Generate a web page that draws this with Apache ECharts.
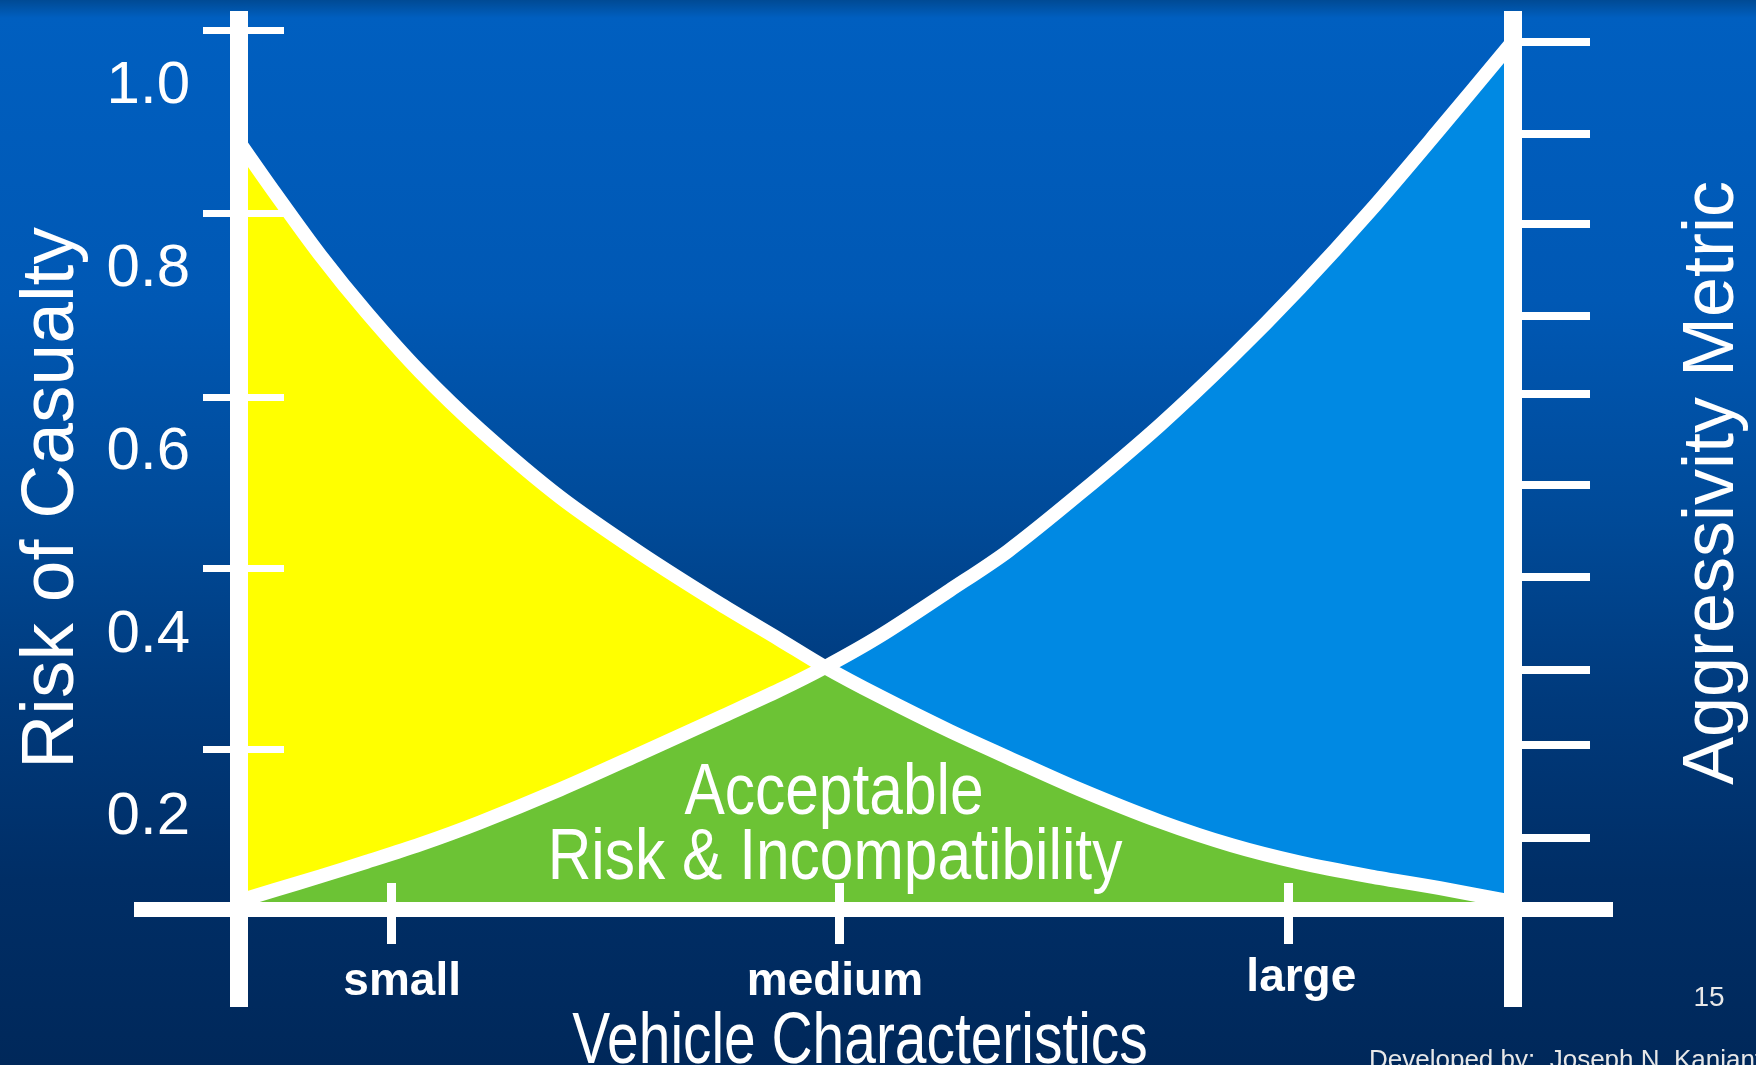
<!DOCTYPE html>
<html><head><meta charset="utf-8">
<script src="https://cdn.jsdelivr.net/npm/echarts@6/dist/echarts.min.js"></script>
<style>
html,body{margin:0;padding:0;overflow:hidden;}
#c{width:1756px;height:1065px;background:linear-gradient(180deg,#004a94 0px,#005fc0 18px,#0058b4 300px,#004a98 520px,#003a7c 700px,#002e66 880px,#00285a 1065px);}
</style>
</head><body><div id="c"></div>
<script>
// ---- data ----
const categories = ['small', 'medium', 'large'];
const categoryTicks = [1, 2, 3];
const categoryLabelPos = [1.025, 1.99, 3.03];
const yLabelValues = [1.0, 0.8, 0.6, 0.4, 0.2];
const leftTickValues = [1.062, 0.862, 0.660, 0.473, 0.275];
const rightTickValues = [1.049, 0.949, 0.850, 0.749, 0.664, 0.565, 0.464, 0.362, 0.280, 0.178];
const vehicleSize = [0.661, 0.741, 0.842, 0.946, 1.065, 1.198, 1.377, 1.555, 1.734, 1.867, 1.968, 2.090, 2.246, 2.376, 2.536, 2.715, 2.875, 3.027, 3.183, 3.339, 3.502];
const riskOfCasualty = [0.940, 0.884, 0.816, 0.753, 0.688, 0.625, 0.551, 0.490, 0.434, 0.395, 0.365, 0.333, 0.295, 0.266, 0.231, 0.196, 0.170, 0.151, 0.136, 0.123, 0.108];
const aggressivity = [0.109, 0.121, 0.136, 0.152, 0.171, 0.195, 0.231, 0.270, 0.310, 0.340, 0.365, 0.399, 0.449, 0.492, 0.555, 0.630, 0.704, 0.780, 0.864, 0.954, 1.050];
const baseLevel = 0.1007;   // value where the horizontal axis sits

// ---- chart ----
const chart = echarts.init(document.getElementById('c'), null, {renderer: 'canvas'});
const pts = arr => vehicleSize.map((x, i) => [x, arr[i]]);
const acceptable = riskOfCasualty.map((r, i) => Math.min(r, aggressivity[i]));
const SM = 0.3;
const WHITE = '#ffffff';
const SANS = '"Liberation Sans", Arial, sans-serif';
const X_MIN = 0.427, X_MAX = 3.725, Y_MIN = -0.007, Y_MAX = 1.083;

function nearestName(v) {
  let best = 0;
  categoryLabelPos.forEach((p, i) => { if (Math.abs(p - v) < Math.abs(categoryLabelPos[best] - v)) best = i; });
  return categories[best];
}

const fillSeries = (data, color, z) => ({
  type: 'line', data, smooth: SM, symbol: 'none', silent: true,
  lineStyle: {width: 0, opacity: 0},
  areaStyle: {color, opacity: 1, origin: baseLevel}, z
});
const lineSeries = (data) => ({
  type: 'line', data, smooth: SM, symbol: 'none', silent: true,
  lineStyle: {width: 14, color: WHITE, cap: 'butt', join: 'round'}, z: 5
});
const boldLbl = {color: WHITE, fontSize: 46, fontWeight: 'bold', fontFamily: SANS};

chart.setOption({
  animation: false,
  backgroundColor: 'transparent',
  grid: {left: 134, right: 143, top: 11, bottom: 58, containLabel: false},
  xAxis: [
    {
      type: 'value', min: X_MIN, max: X_MAX, position: 'bottom', offset: -98, z: 10,
      axisLine: {show: true, onZero: false, lineStyle: {color: WHITE, width: 15, cap: 'butt'}},
      axisTick: {show: true, inside: false, length: 35, customValues: categoryTicks, lineStyle: {color: WHITE, width: 9, cap: 'butt'}},
      axisLabel: Object.assign({show: true, customValues: categoryLabelPos, margin: 50,
        formatter: v => { const n = nearestName(v); return n === 'large' ? '{up|' + n + '}' : n; },
        rich: {up: Object.assign({lineHeight: 38}, boldLbl)}}, boldLbl),
      splitLine: {show: false}
    },
    {
      type: 'value', min: X_MIN, max: X_MAX, position: 'bottom', offset: -98, z: 10,
      axisLine: {show: false, onZero: false},
      axisTick: {show: true, inside: true, length: 26, customValues: categoryTicks, lineStyle: {color: WHITE, width: 9, cap: 'butt'}},
      axisLabel: {show: false},
      splitLine: {show: false}
    }
  ],
  yAxis: [
    {
      type: 'value', min: Y_MIN, max: Y_MAX, position: 'left', offset: -105, z: 10,
      axisLine: {show: true, onZero: false, lineStyle: {color: WHITE, width: 18, cap: 'butt'}},
      axisTick: {show: true, inside: false, length: 36, customValues: leftTickValues, lineStyle: {color: WHITE, width: 7, cap: 'butt'}},
      axisLabel: {show: true, customValues: yLabelValues, formatter: v => v.toFixed(1), margin: 49,
        padding: [12, 0, 0, 0], color: WHITE, fontSize: 60, fontFamily: SANS},
      splitLine: {show: false}
    },
    {
      type: 'value', min: Y_MIN, max: Y_MAX, position: 'left', offset: -105, z: 10,
      axisLine: {show: false, onZero: false},
      axisTick: {show: true, inside: true, length: 45, customValues: leftTickValues, lineStyle: {color: WHITE, width: 7, cap: 'butt'}},
      axisLabel: {show: false},
      splitLine: {show: false}
    },
    {
      type: 'value', min: Y_MIN, max: Y_MAX, position: 'right', offset: -100, z: 10,
      axisLine: {show: true, onZero: false, lineStyle: {color: WHITE, width: 18, cap: 'butt'}},
      axisTick: {show: true, inside: false, length: 77, customValues: rightTickValues, lineStyle: {color: WHITE, width: 8, cap: 'butt'}},
      axisLabel: {show: false},
      splitLine: {show: false}
    }
  ],
  series: [
    fillSeries(pts(aggressivity), '#0089e3', 1),
    fillSeries(pts(riskOfCasualty), '#ffff00', 2),
    fillSeries(pts(acceptable), '#6cc335', 3),
    lineSeries(pts(riskOfCasualty)),
    lineSeries(pts(aggressivity))
  ],
  graphic: [
    {type: 'text', x: 52, y: 498, rotation: Math.PI / 2, z: 20,
      style: {text: 'Risk of Casualty', fill: WHITE, fontSize: 75, fontFamily: SANS, align: 'center', verticalAlign: 'middle'}},
    {type: 'text', x: 1713, y: 483, rotation: Math.PI / 2, z: 20,
      style: {text: 'Aggressivity Metric', fill: WHITE, fontSize: 72, fontFamily: SANS, align: 'center', verticalAlign: 'middle'}},
    {type: 'text', x: 860, y: 1043, scaleX: 0.79, z: 20,
      style: {text: 'Vehicle Characteristics', fill: WHITE, fontSize: 72, fontFamily: SANS, align: 'center', verticalAlign: 'middle'}},
    {type: 'text', x: 834, y: 794, scaleX: 0.84, z: 20,
      style: {text: 'Acceptable', fill: WHITE, fontSize: 72, fontFamily: SANS, align: 'center', verticalAlign: 'middle'}},
    {type: 'text', x: 835, y: 859, scaleX: 0.84, z: 20,
      style: {text: 'Risk & Incompatibility', fill: WHITE, fontSize: 72, fontFamily: SANS, align: 'center', verticalAlign: 'middle'}},
    {type: 'text', x: 1709, y: 998, z: 20,
      style: {text: '15', fill: '#e8e8e8', fontSize: 28, fontFamily: SANS, align: 'center', verticalAlign: 'middle'}},
    {type: 'text', x: 1369, y: 1061, z: 20,
      style: {text: 'Developed by:  Joseph N. Kanianthra', fill: '#e8e8e8', fontSize: 26, fontFamily: SANS, align: 'left', verticalAlign: 'middle'}}
  ]
});
</script>
</body></html>
